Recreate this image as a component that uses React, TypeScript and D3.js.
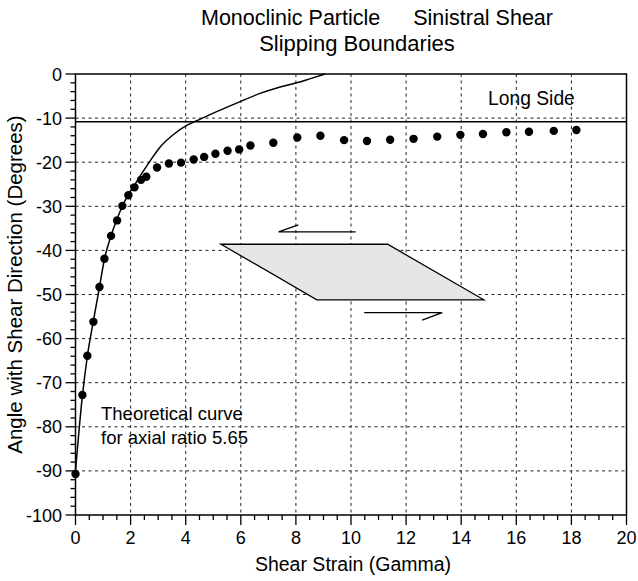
import React from "react";
import * as d3 from "d3";

// ---- data ----
const gammaObs = [0, 0.25, 0.43, 0.65, 0.87, 1.05, 1.29, 1.51, 1.7, 1.92, 2.14, 2.38, 2.57, 2.96, 3.39, 3.83, 4.29, 4.67, 5.08, 5.52, 5.94, 6.35, 7.18, 8.05, 8.89, 9.75, 10.58, 11.42, 12.27, 13.13, 13.97, 14.79, 15.64, 16.46, 17.36, 18.18];
const angleObs = [-90.7, -72.8, -63.9, -56.2, -48.3, -41.9, -36.7, -33.2, -29.9, -27.5, -25.7, -24.0, -23.3, -21.2, -20.3, -20.1, -19.4, -18.8, -18.1, -17.4, -17.1, -16.2, -15.6, -14.4, -14.0, -15.0, -15.2, -14.9, -14.7, -14.2, -13.8, -13.6, -13.2, -13.1, -12.9, -12.7];

const gammaTheory = [0, 0.25, 0.43, 0.65, 0.87, 1.05, 1.3, 1.5, 1.7, 1.92, 2.14, 2.4, 2.7, 3.08, 3.5, 4.05, 4.4, 5.25, 6.0, 6.7, 7.4, 8.03, 8.5, 9.06];
const angleTheory = [-90, -73, -64, -56, -48.3, -42, -36.5, -33, -30, -27.3, -25.2, -22.6, -19.8, -16.5, -14, -11.6, -10.6, -8.2, -6.2, -4.4, -3.0, -2.0, -1.1, 0];

const longSideAngle = -10.8;

const xTickValues = [0, 2, 4, 6, 8, 10, 12, 14, 16, 18, 20];
const xTickLabels = ["0", "2", "4", "6", "8", "10", "12", "14", "16", "18", "20"];
const yTickValues = [0, -10, -20, -30, -40, -50, -60, -70, -80, -90, -100];
const yTickLabels = ["0", "-10", "-20", "-30", "-40", "-50", "-60", "-70", "-80", "-90", "-100"];

const titleLine1 = ["Monoclinic Particle", "Sinistral Shear"];
const titleLine2 = "Slipping Boundaries";
const xLabel = "Shear Strain (Gamma)";
const yLabel = "Angle with Shear Direction (Degrees)";
const noteLines = ["Theoretical curve", "for axial ratio 5.65"];
const longSideLabel = "Long Side";

// parallelogram sketch (data units)
const shapeGamma = [5.28, 11.33, 14.82, 8.76];
const shapeAngle = [-38.6, -38.6, -51.2, -51.2];
// half arrows: [x0, x1(tip), barbX], [y, barbY]
const topArrowGamma = [10.17, 7.37, 8.09];
const topArrowAngle = [-35.8, -34.2];
const botArrowGamma = [10.48, 13.31, 12.58];
const botArrowAngle = [-54.1, -55.8];

const FONT = "'Liberation Sans', Arial, Helvetica, sans-serif";

export default function App() {
  const W = 638, H = 581;
  const x = d3.scaleLinear().domain([0, 20]).range([75.5, 626.5]);
  const y = d3.scaleLinear().domain([-100, 0]).range([515, 74]);

  const xMinor = d3.range(0, 20.001, 0.5);
  const yMinor = d3.range(-100, 0.001, 2);

  const line = d3
    .line<number>()
    .x((_, i) => x(gammaTheory[i]))
    .y((d) => y(d))
    .curve(d3.curveMonotoneX);

  const shapePts = shapeGamma.map((g, i) => `${x(g)},${y(shapeAngle[i])}`).join(" ");

  const dash = "3,3.5";
  const gridColor = "#222";

  return (
    <svg width={W} height={H} style={{ position: "absolute", left: 0, top: 0, background: "#fff" }} fontFamily={FONT}>
      <rect x={0} y={0} width={W} height={H} fill="#fff" />
      {/* grid */}
      {xTickValues.slice(1, -1).map((v) => (
        <line key={"gx" + v} x1={x(v)} x2={x(v)} y1={y(0)} y2={y(-100)} stroke={gridColor} strokeWidth={1} strokeDasharray={dash} />
      ))}
      {yTickValues.slice(1, -1).map((v) => (
        <line key={"gy" + v} x1={x(0)} x2={x(20)} y1={y(v)} y2={y(v)} stroke={gridColor} strokeWidth={1} strokeDasharray={dash} />
      ))}

      {/* parallelogram */}
      <polygon points={shapePts} fill="#e6e6e6" stroke="#000" strokeWidth={1.3} />
      {/* arrows */}
      <polyline
        points={`${x(topArrowGamma[0])},${y(topArrowAngle[0])} ${x(topArrowGamma[1])},${y(topArrowAngle[0])} ${x(topArrowGamma[2])},${y(topArrowAngle[1])}`}
        fill="none" stroke="#000" strokeWidth={1.3} />
      <polyline
        points={`${x(botArrowGamma[0])},${y(botArrowAngle[0])} ${x(botArrowGamma[1])},${y(botArrowAngle[0])} ${x(botArrowGamma[2])},${y(botArrowAngle[1])}`}
        fill="none" stroke="#000" strokeWidth={1.3} />

      {/* long side line */}
      <line x1={x(0)} x2={x(20)} y1={y(longSideAngle)} y2={y(longSideAngle)} stroke="#000" strokeWidth={1.5} />

      {/* theoretical curve */}
      <path d={line(angleTheory) || ""} fill="none" stroke="#000" strokeWidth={1.5} />

      {/* observations */}
      {gammaObs.map((g, i) => (
        <circle key={"p" + i} cx={x(g)} cy={y(angleObs[i])} r={4.2} fill="#000" />
      ))}

      {/* frame */}
      <rect x={x(0)} y={y(0)} width={x(20) - x(0)} height={y(-100) - y(0)} fill="none" stroke="#000" strokeWidth={1.5} />

      {/* x ticks */}
      {xMinor.map((v) => {
        const major = Math.abs(v / 2 - Math.round(v / 2)) < 1e-6;
        return <line key={"tx" + v} x1={x(v)} x2={x(v)} y1={y(-100)} y2={y(-100) + (major ? 10 : 5)} stroke="#000" strokeWidth={1.3} />;
      })}
      {xTickValues.map((v, i) => (
        <text key={"lx" + v} x={x(v)} y={544} textAnchor="middle" fontSize={18}>{xTickLabels[i]}</text>
      ))}
      {/* y ticks */}
      {yMinor.map((v) => {
        const major = Math.abs(v / 10 - Math.round(v / 10)) < 1e-6;
        return <line key={"ty" + v} x1={x(0)} x2={x(0) - (major ? 10 : 5)} y1={y(v)} y2={y(v)} stroke="#000" strokeWidth={1.3} />;
      })}
      {yTickValues.map((v, i) => (
        <text key={"ly" + v} x={62} y={y(v) + 6.5} textAnchor="end" fontSize={18}>{yTickLabels[i]}</text>
      ))}

      {/* axis titles */}
      <text x={(x(0) + x(20)) / 2 + 2} y={571} textAnchor="middle" fontSize={19.5}>{xLabel}</text>
      <text transform={`translate(22,${(y(0) + y(-100)) / 2 - 10}) rotate(-90)`} textAnchor="middle" fontSize={20.5}>{yLabel}</text>

      {/* title */}
      <text x={201} y={25} fontSize={21.5}>{titleLine1[0]}</text>
      <text x={553} y={25} textAnchor="end" fontSize={21.5}>{titleLine1[1]}</text>
      <text x={357} y={51} textAnchor="middle" fontSize={22}>{titleLine2}</text>

      {/* annotations */}
      <text x={101} y={420} fontSize={18.5}>{noteLines[0]}</text>
      <text x={101} y={444} fontSize={18.5}>{noteLines[1]}</text>
      <text x={488} y={105} fontSize={19.3}>{longSideLabel}</text>
    </svg>
  );
}
